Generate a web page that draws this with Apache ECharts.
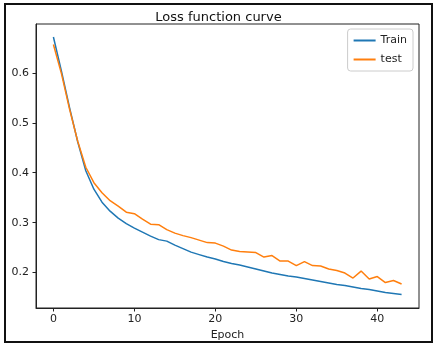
<!DOCTYPE html>
<html>
<head>
<meta charset="UTF-8">
<title>Loss function curve</title>
<script src="https://cdn.jsdelivr.net/npm/echarts@6/dist/echarts.min.js"></script>
<style>
  body{margin:0;background:#fff}
</style>
</head>
<body>
<div id="main" style="width:437px;height:346px"></div>
<script>
// epochs 0..43
var epochs = [];
for (var i = 0; i < 44; i++) epochs.push(i);

var trainLoss = [0.672, 0.603, 0.530, 0.462, 0.404, 0.367, 0.341, 0.323, 0.309, 0.298,
  0.289, 0.281, 0.273, 0.266, 0.263, 0.255, 0.248, 0.241, 0.236, 0.231,
  0.227, 0.222, 0.218, 0.215, 0.211, 0.207, 0.203, 0.199, 0.196, 0.193,
  0.191, 0.188, 0.185, 0.182, 0.179, 0.176, 0.174, 0.171, 0.168, 0.166,
  0.163, 0.160, 0.158, 0.156];

var testLoss = [0.657, 0.598, 0.527, 0.463, 0.411, 0.380, 0.360, 0.344, 0.333, 0.321,
  0.318, 0.307, 0.297, 0.296, 0.286, 0.279, 0.274, 0.270, 0.265, 0.260,
  0.259, 0.253, 0.245, 0.242, 0.241, 0.240, 0.231, 0.234, 0.223, 0.223,
  0.214, 0.222, 0.214, 0.213, 0.207, 0.204, 0.199, 0.189, 0.203, 0.187,
  0.192, 0.180, 0.184, 0.177];

var xTicks = [0, 10, 20, 30, 40];
var yTicks = [0.2, 0.3, 0.4, 0.5, 0.6];

function pairs(ys) {
  return ys.map(function (v, i) { return [epochs[i], v]; });
}

var font = 'DejaVu Sans';
var myChart = echarts.init(document.getElementById('main'));

var option = {
  animation: false,
  title: {
    text: 'Loss function curve',
    left: 'center',
    top: 6,
    textStyle: { fontFamily: font, fontSize: 13, fontWeight: 'normal', color: '#111' }
  },
  legend: {
    orient: 'vertical',
    right: 24,
    top: 29,
    icon: 'rect',
    itemWidth: 22,
    itemHeight: 2,
    itemGap: 8,
    padding: [6, 6, 6, 6],
    backgroundColor: '#fff',
    borderColor: '#ccc',
    borderWidth: 1,
    borderRadius: 3,
    textStyle: { fontFamily: font, fontSize: 11, color: '#222' },
    data: ['Train', 'test']
  },
  grid: {
    left: 36, top: 24, right: 18, bottom: 37,
    show: true, borderColor: '#222', borderWidth: 1
  },
  xAxis: {
    type: 'value',
    min: -2.15,
    max: 45.15,
    name: 'Epoch',
    nameLocation: 'middle',
    nameGap: 22,
    nameTextStyle: { fontFamily: font, fontSize: 11, color: '#222' },
    splitLine: { show: false },
    axisLine: { show: true, onZero: false, lineStyle: { color: '#222', width: 1 } },
    axisTick: { show: true, length: 3.5, customValues: xTicks, lineStyle: { color: '#222' } },
    axisLabel: { customValues: xTicks, margin: 6, fontFamily: font, fontSize: 11, color: '#222' }
  },
  yAxis: {
    type: 'value',
    min: 0.129,
    max: 0.698,
    splitLine: { show: false },
    axisLine: { show: true, onZero: false, lineStyle: { color: '#222', width: 1 } },
    axisTick: { show: true, length: 3.5, customValues: yTicks, lineStyle: { color: '#222' } },
    axisLabel: {
      customValues: yTicks, margin: 7, fontFamily: font, fontSize: 11, color: '#222',
      formatter: function (v) { return v.toFixed(1); }
    }
  },
  graphic: [{
    type: 'rect',
    shape: { x: 5, y: 4, width: 427, height: 338 },
    style: { fill: null, stroke: '#111', lineWidth: 2 },
    silent: true
  }],
  series: [
    {
      name: 'Train', type: 'line', data: pairs(trainLoss),
      showSymbol: false, color: '#1f77b4', lineStyle: { width: 1.5 }
    },
    {
      name: 'test', type: 'line', data: pairs(testLoss),
      showSymbol: false, color: '#ff7f0e', lineStyle: { width: 1.5 }
    }
  ]
};

myChart.setOption(option);
</script>
</body>
</html>
